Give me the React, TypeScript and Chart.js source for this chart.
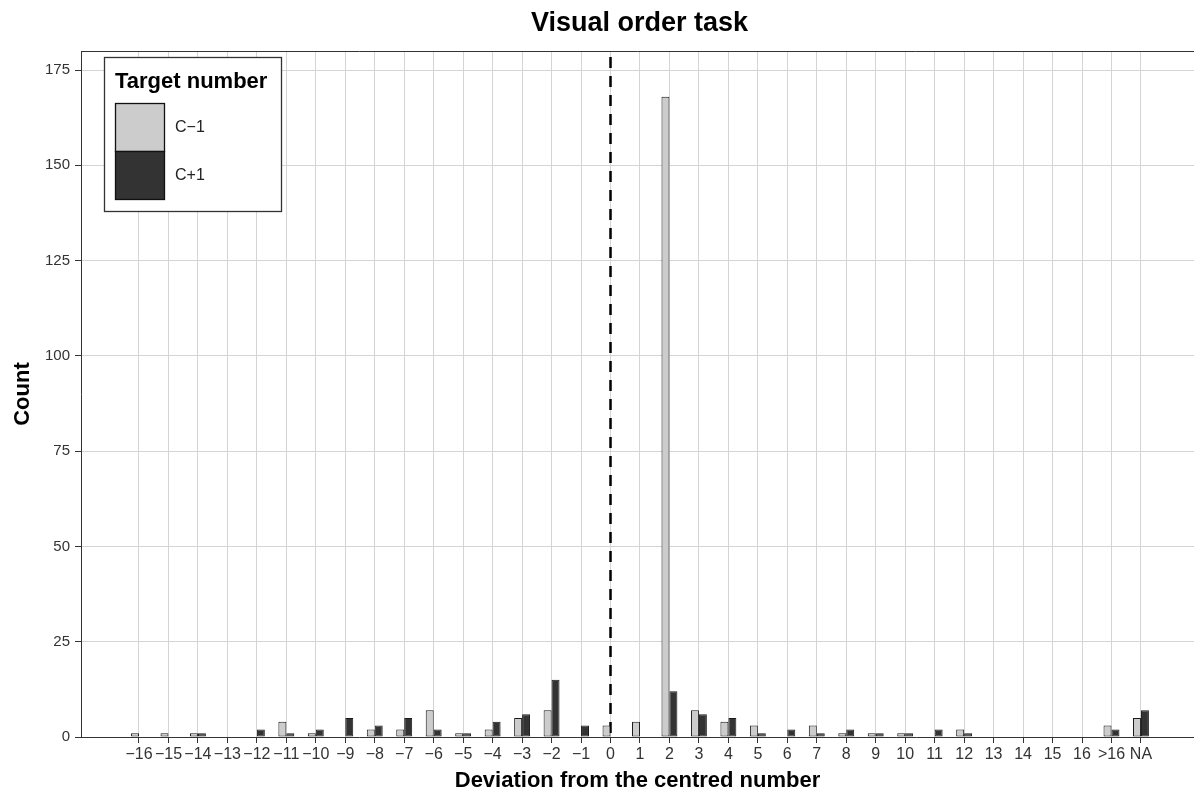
import { useEffect, useRef } from 'react';
import { Chart, registerables } from 'chart.js';

Chart.register(...registerables);

const categories = [
  '−16', '−15', '−14', '−13', '−12', '−11', '−10', '−9', '−8', '−7', '−6', '−5', '−4', '−3', '−2', '−1',
  '0',
  '1', '2', '3', '4', '5', '6', '7', '8', '9', '10', '11', '12', '13', '14', '15', '16',
  '>16', 'NA',
];
const seriesNames = ['C−1', 'C+1'];
const cMinus1 = [1, 1, 1, 0, 0, 4, 1, 0, 2, 2, 7, 1, 2, 5, 7, 0, 3, 4, 168, 7, 4, 3, 0, 3, 1, 1, 1, 0, 2, 0, 0, 0, 0, 3, 5];
const cPlus1 = [0, 0, 1, 0, 2, 1, 2, 5, 3, 5, 2, 1, 4, 6, 15, 3, 0, 0, 12, 6, 5, 1, 2, 1, 2, 1, 1, 2, 1, 0, 0, 0, 0, 2, 7];
const yTicks = [0, 25, 50, 75, 100, 125, 150, 175];
const referenceCategory = '0';

const FONT = "'Liberation Sans', Arial, Helvetica, sans-serif";

const decorPlugin = {
  id: 'decor',
  beforeDatasetsDraw(chart: any) {
    const { ctx, chartArea } = chart;
    const xs = chart.scales.x;
    const x = xs.getPixelForValue(categories.indexOf(referenceCategory));
    ctx.save();
    ctx.strokeStyle = '#000';
    ctx.lineWidth = 2.5;
    ctx.setLineDash([11, 8]);
    ctx.lineDashOffset = -6;
    ctx.beginPath();
    ctx.moveTo(x, chartArea.top);
    ctx.lineTo(x, chartArea.bottom);
    ctx.stroke();
    ctx.restore();
  },
  afterDraw(chart: any) {
    const { ctx, chartArea } = chart;
    ctx.save();
    // top panel border
    ctx.strokeStyle = '#333';
    ctx.lineWidth = 1;
    ctx.beginPath();
    ctx.moveTo(chartArea.left, chartArea.top + 0.5);
    ctx.lineTo(chartArea.right, chartArea.top + 0.5);
    ctx.stroke();

    // title
    ctx.fillStyle = '#000';
    ctx.font = `bold 27px ${FONT}`;
    ctx.textAlign = 'center';
    ctx.textBaseline = 'middle';
    ctx.fillText('Visual order task', (chartArea.left + chartArea.right) / 2 + 2, 24);

    // legend
    const lx = 104, ly = 57, lw = 177, lh = 154;
    ctx.fillStyle = '#fff';
    ctx.fillRect(lx, ly, lw, lh);
    ctx.strokeStyle = '#333';
    ctx.lineWidth = 1.3;
    ctx.strokeRect(lx + 0.5, ly + 0.5, lw, lh);
    ctx.fillStyle = '#000';
    ctx.font = `bold 22px ${FONT}`;
    ctx.textAlign = 'left';
    ctx.textBaseline = 'middle';
    ctx.fillText('Target number', 115, 82);
    chart.data.datasets.forEach((ds: any, i: number) => {
      const sy = 103 + i * 48;
      ctx.fillStyle = ds.backgroundColor;
      ctx.fillRect(115, sy, 49, 48);
      ctx.strokeStyle = '#111';
      ctx.lineWidth = 1.3;
      ctx.strokeRect(115.5, sy + 0.5, 49, 48);
      ctx.fillStyle = '#222';
      ctx.font = `16px ${FONT}`;
      ctx.fillText(ds.label, 175, sy + 25);
    });
    ctx.restore();
  },
};

export default function App() {
  const ref = useRef<HTMLCanvasElement>(null);
  useEffect(() => {
    if (!ref.current) return;
    const toPoints = (arr: number[]) => arr.map((v, i) => ({ x: i, y: v === 0 ? null : v }));
    const chart = new Chart(ref.current, {
      type: 'bar',
      data: {
        datasets: [
          {
            label: seriesNames[0],
            data: toPoints(cMinus1) as any,
            backgroundColor: '#cccccc',
            borderColor: '#1a1a1a',
            borderWidth: 1,
            borderSkipped: false,
            categoryPercentage: 0.54,
            barPercentage: 1,
          },
          {
            label: seriesNames[1],
            data: toPoints(cPlus1) as any,
            backgroundColor: '#333333',
            borderColor: '#1a1a1a',
            borderWidth: 1,
            borderSkipped: false,
            categoryPercentage: 0.54,
            barPercentage: 1,
          },
        ],
      },
      options: {
        responsive: false,
        animation: false,
        devicePixelRatio: 1,
        layout: { padding: { top: 51, left: 0, right: 0, bottom: 0 } },
        plugins: {
          legend: { display: false },
          title: { display: false },
          tooltip: { enabled: false },
        },
        scales: {
          x: {
            type: 'linear',
            min: -1.968,
            max: 35.8,
            offset: false,
            grid: {
              offset: false,
              color: '#d4d4d4',
              lineWidth: 1,
              tickColor: '#333',
              tickLength: 6,
            },
            border: { display: true, color: '#333', width: 1 },
            afterBuildTicks: (scale: any) => {
              scale.ticks = categories.map((_, i) => ({ value: i }));
            },
            afterFit: (scale: any) => {
              scale.height = 53;
            },
            ticks: {
              autoSkip: false,
              maxRotation: 0,
              minRotation: 0,
              padding: 2,
              color: '#333',
              font: { family: FONT, size: 16 },
              callback: (v: any) => categories[v as number] ?? '',
            },
            title: {
              display: true,
              text: 'Deviation from the centred number',
              color: '#000',
              font: { family: FONT, size: 22, weight: 'bold', lineHeight: 0.8 },
              padding: { top: 0, bottom: 0 },
            },
          },
          y: {
            type: 'linear',
            min: 0,
            max: 180,
            grid: {
              color: '#d4d4d4',
              lineWidth: 1,
              tickColor: '#333',
              tickLength: 6,
            },
            border: { display: true, color: '#333', width: 1 },
            afterBuildTicks: (scale: any) => {
              scale.ticks = yTicks.map((v) => ({ value: v }));
            },
            afterFit: (scale: any) => {
              scale.width = 81;
            },
            ticks: {
              padding: 5,
              color: '#333',
              font: { family: FONT, size: 15 },
            },
            title: {
              display: true,
              text: 'Count',
              color: '#000',
              font: { family: FONT, size: 22, weight: 'bold', lineHeight: 1.2 },
              padding: { top: 10, bottom: 0 },
            },
          },
        },
      },
      plugins: [decorPlugin],
    });
    return () => chart.destroy();
  }, []);

  return (
    <div style={{ position: 'fixed', left: 0, top: 0, width: 1194, height: 790, background: '#fff' }}>
      <canvas ref={ref} width={1194} height={790} style={{ display: 'block' }} />
    </div>
  );
}
